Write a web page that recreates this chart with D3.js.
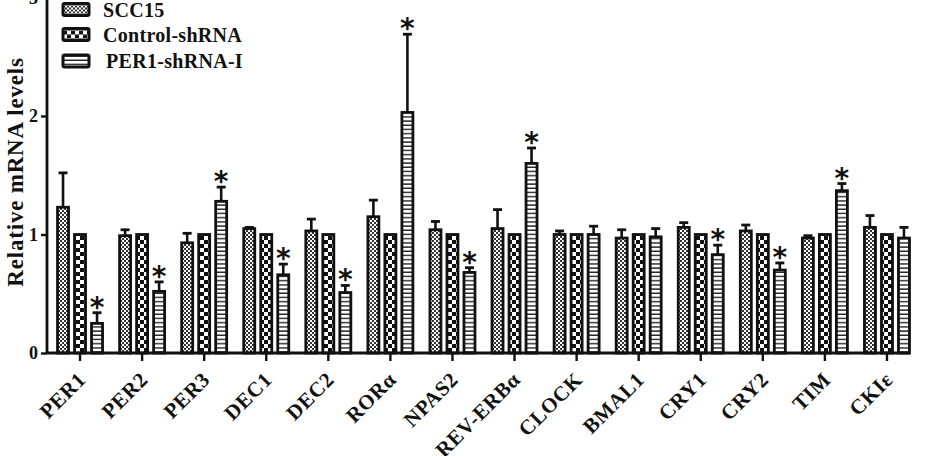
<!DOCTYPE html>
<html lang="en">
<head>
    <meta charset="utf-8">
    <title>Relative mRNA levels</title>
    <script src="https://d3js.org/d3.v7.min.js"></script>
    <style>
        body { margin: 0; background: #fff; }
        text { font-family: "Liberation Serif", "Times New Roman", serif; font-weight: bold; fill: #111; }
    </style>
</head>
<body>

<script>
    // data
    const genes = ["PER1", "PER2", "PER3", "DEC1", "DEC2", "RORα", "NPAS2", "REV-ERBα",
                   "CLOCK", "BMAL1", "CRY1", "CRY2", "TIM", "CKIε"];
    const series = ["SCC15", "Control-shRNA", "PER1-shRNA-I"];

    const scc15     = [1.23, 0.99, 0.93, 1.05, 1.03, 1.15, 1.04, 1.05, 1.00, 0.97, 1.06, 1.03, 0.97, 1.06];
    const scc15Err  = [0.29, 0.05, 0.08, 0.01, 0.10, 0.14, 0.07, 0.16, 0.03, 0.07, 0.04, 0.05, 0.02, 0.10];
    const control   = [1, 1, 1, 1, 1, 1, 1, 1, 1, 1, 1, 1, 1, 1];
    const controlErr= [0, 0, 0, 0, 0, 0, 0, 0, 0, 0, 0, 0, 0, 0];
    const shrna     = [0.25, 0.52, 1.28, 0.66, 0.51, 2.03, 0.68, 1.60, 1.00, 0.98, 0.83, 0.70, 1.37, 0.97];
    const shrnaErr  = [0.09, 0.08, 0.12, 0.09, 0.06, 0.66, 0.04, 0.13, 0.07, 0.07, 0.08, 0.06, 0.06, 0.09];
    const signif    = [1, 1, 1, 1, 1, 1, 1, 1, 0, 0, 1, 1, 1, 0];

    const yTicks = [0, 1, 2, 3];

    const values = [scc15, control, shrna];
    const errors = [scc15Err, controlErr, shrnaErr];
    const fills = ["url(#fine)", "url(#checker)", "url(#stripes)"];

    const rows = [];
    genes.forEach((g, i) => series.forEach((s, j) => rows.push({
        gene: g, series: s, idx: j, value: values[j][i], err: errors[j][i],
        star: j === 2 && signif[i] === 1
    })));

    const W = 934, H = 456;
    const axisX = 47, axisY = 353;

    const svg = d3.select("body").append("svg").attr("width", W).attr("height", H);

    // patterns
    const defs = svg.append("defs");
    const fine = defs.append("pattern").attr("id", "fine").attr("patternUnits", "userSpaceOnUse")
            .attr("width", 4).attr("height", 4);
    fine.append("rect").attr("width", 4).attr("height", 4).attr("fill", "#fff");
    fine.append("rect").attr("width", 2).attr("height", 2).attr("fill", "#333");
    fine.append("rect").attr("x", 2).attr("y", 2).attr("width", 2).attr("height", 2).attr("fill", "#333");

    const checker = defs.append("pattern").attr("id", "checker").attr("patternUnits", "userSpaceOnUse")
            .attr("width", 8).attr("height", 8);
    checker.append("rect").attr("width", 8).attr("height", 8).attr("fill", "#111");
    checker.append("rect").attr("width", 4).attr("height", 4).attr("fill", "#fff");
    checker.append("rect").attr("x", 4).attr("y", 4).attr("width", 4).attr("height", 4).attr("fill", "#fff");

    const stripes = defs.append("pattern").attr("id", "stripes").attr("patternUnits", "userSpaceOnUse")
            .attr("width", 8).attr("height", 4.2);
    stripes.append("rect").attr("width", 8).attr("height", 4.2).attr("fill", "#fff");
    stripes.append("rect").attr("y", 2.8).attr("width", 8).attr("height", 1.4).attr("fill", "#222");

    // scales
    const x0 = d3.scaleBand().domain(genes).range([49, 918]);
    const x1 = d3.scaleBand().domain(series).range([-25.5, 25.5])
            .paddingInner(0.353).paddingOuter(0.176);
    const y = d3.scaleLinear().domain([0, 3]).range([axisY, -2.5]);

    const cx = d => x0(d.gene) + x0.bandwidth() / 2;
    const bx = d => cx(d) + x1(d.series) + x1.bandwidth() / 2;

    // bars
    const g = svg.append("g");
    g.selectAll("rect.bar")
            .data(rows).enter()
            .append("rect")
            .attr("class", "bar")
            .attr("x", d => cx(d) + x1(d.series))
            .attr("y", d => y(d.value))
            .attr("width", x1.bandwidth())
            .attr("height", d => axisY - y(d.value))
            .attr("fill", d => fills[d.idx])
            .attr("stroke", "#111")
            .attr("stroke-width", 2.8);

    // error bars (upper only)
    const eb = rows.filter(d => d.err > 0);
    g.selectAll("line.err")
            .data(eb).enter()
            .append("line")
            .attr("x1", bx).attr("x2", bx)
            .attr("y1", d => y(d.value))
            .attr("y2", d => y(d.value + d.err))
            .attr("stroke", "#111").attr("stroke-width", 2.6);
    g.selectAll("line.cap")
            .data(eb).enter()
            .append("line")
            .attr("x1", d => bx(d) - 4.5)
            .attr("x2", d => bx(d) + 4.5)
            .attr("y1", d => y(d.value + d.err))
            .attr("y2", d => y(d.value + d.err))
            .attr("stroke", "#111").attr("stroke-width", 2.8);

    // stars
    g.selectAll("text.star")
            .data(rows.filter(d => d.star)).enter()
            .append("text")
            .attr("x", bx)
            .attr("y", d => y(d.value + d.err) + 4)
            .attr("text-anchor", "middle")
            .style("font-size", "28px")
            .style("font-family", "DejaVu Sans, sans-serif")
            .text("*");

    // y axis
    const yAxis = svg.append("g").attr("transform", `translate(${axisX},0)`)
            .call(d3.axisLeft(y).tickValues(yTicks).tickSize(6).tickPadding(3).tickFormat(d3.format("d")));
    yAxis.select(".domain").attr("d", `M0,${y(3)}V${axisY}`).attr("stroke", "#111").attr("stroke-width", 2.8);
    yAxis.selectAll(".tick line").attr("stroke", "#111").attr("stroke-width", 2.4);
    yAxis.selectAll(".tick text").style("font-size", "18px").attr("fill", "#111");

    // x axis
    const xAxis = svg.append("g").attr("transform", `translate(0,${axisY})`)
            .call(d3.axisBottom(x0).tickSize(8).tickSizeOuter(0));
    xAxis.select(".domain").attr("d", `M${axisX},0H${x0.range()[1] - 8}`)
            .attr("stroke", "#111").attr("stroke-width", 2.8);
    xAxis.selectAll(".tick line").attr("stroke", "#111").attr("stroke-width", 2.4);
    xAxis.selectAll(".tick text")
            .attr("text-anchor", "end")
            .attr("dy", 0)
            .attr("y", 0)
            .attr("transform", "translate(7,28) rotate(-45)")
            .style("font-size", "21px")
            .style("letter-spacing", "0.6px")
            .attr("fill", "#111");

    // y label
    svg.append("text")
            .attr("transform", `translate(23,172) rotate(-90)`)
            .attr("text-anchor", "middle")
            .style("font-size", "23px")
            .style("letter-spacing", "0.8px")
            .text("Relative mRNA levels");

    // legend
    const legend = svg.append("g").selectAll("g")
            .data(series).enter()
            .append("g")
            .attr("transform", (d, i) => `translate(63,${[9.5, 34.5, 61][i]})`);
    legend.append("rect")
            .attr("x", 0).attr("y", -6).attr("width", 26).attr("height", 12)
            .attr("rx", 1.5)
            .attr("fill", (d, i) => fills[i])
            .attr("stroke", "#111").attr("stroke-width", 3);
    legend.append("text")
            .attr("x", (d, i) => i === 2 ? 43 : 40)
            .attr("y", 7)
            .style("font-size", "20px")
            .style("letter-spacing", "0.3px")
            .text(d => d);
</script>

</body>
</html>
